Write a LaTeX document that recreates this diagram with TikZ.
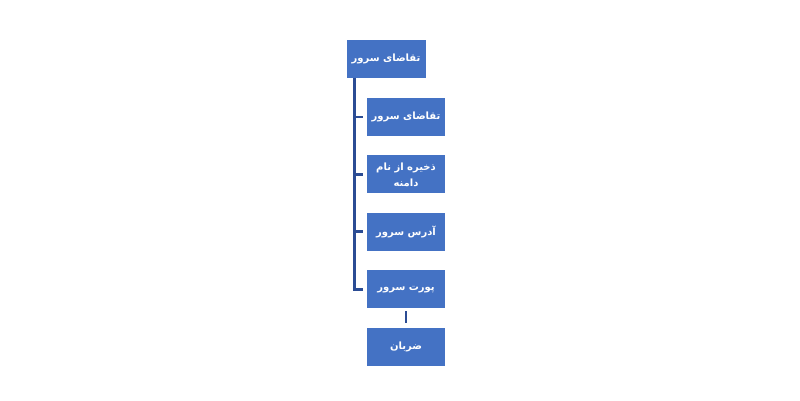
\documentclass[tikz,border=0pt]{standalone}
\usepackage{fontspec}
\usetikzlibrary{positioning}
\usepackage{xcolor}
\TeXXeTstate=1
\newfontfamily\arabicfont[Script=Arabic]{DejaVu Sans}
\definecolor{boxblue}{HTML}{4472C4}
\definecolor{linkblue}{HTML}{2B4C94}

\begin{document}
\begin{tikzpicture}[
    x=1pt, y=1pt,
    node distance=19pt,
    item/.style={rectangle,fill=boxblue,text=white,minimum width=78pt,minimum height=38pt,
      inner sep=1pt,align=center,font=\arabicfont\bfseries\fontsize{10}{16}\selectfont},
    link/.style={draw=linkblue,line width=2.8pt}
    ]
    \useasboundingbox[fill=white] (0,0) rectangle (800,400);

    \node[item, minimum width=79pt, minimum height=37pt] (top) at (386,341) {\beginR تقاضای سرور\endR};
    \node[item] (c1) at (406,283) {\beginR تقاضای سرور\endR};
    \node[item] (c2) [below = of c1] {\beginR ذخیره از نام\endR\\\beginR دامنه\endR};
    \node[item] (c3) [below = of c2] {\beginR آدرس سرور\endR};
    \node[item] (c4) [below = of c3] {\beginR پورت سرور\endR};
    \node[item] (c5) [below = of c4] {\beginR ضربان\endR};

    \coordinate [right=8pt of top.south west] (trunk);
    \coordinate [left=4pt of c1.west] (c1in);
    \coordinate [left=4pt of c2.west] (c2in);
    \coordinate [left=4pt of c3.west] (c3in);
    \coordinate [left=4pt of c4.west] (c4in);

    \draw[link] (trunk) |- (c4in);
    \draw[link] (trunk |- c1in) -- (c1in);
    \draw[link] (trunk |- c2in) -- (c2in);
    \draw[link] (trunk |- c3in) -- (c3in);
    \draw[link] ([yshift=-3pt]c4.south) -- ([yshift=4pt]c5.north);

  \end{tikzpicture}
\end{document}
